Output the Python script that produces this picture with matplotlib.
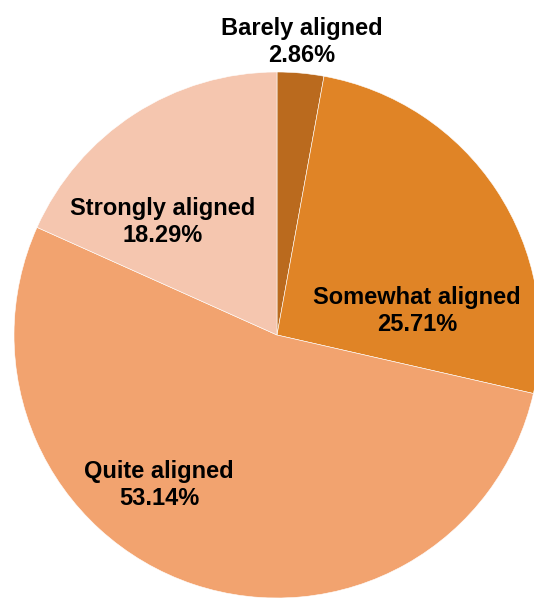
import matplotlib.pyplot as plt

labels = ["Barely aligned", "Somewhat aligned", "Quite aligned", "Strongly aligned"]
shares = [2.86, 25.71, 53.14, 18.29]
colors = ["#BA6A1E", "#E08426", "#F2A36F", "#F5C6AF"]
# label anchor points, in units of the pie radius
label_xy = [(0.095, 1.115), (0.532, 0.091), (-0.449, -0.570), (-0.433, 0.430)]

plt.rcParams['font.family'] = ['Liberation Sans', 'DejaVu Sans']

fig = plt.figure(figsize=(5.34, 5.98), dpi=100)
ax = fig.add_axes([0, 0, 1, 1])

ax.pie(shares, colors=colors, startangle=90, counterclock=False, radius=1.0,
       wedgeprops=dict(edgecolor="white", linewidth=0.4))

for lab, val, (x, y) in zip(labels, shares, label_xy):
    ax.text(x, y, f"{lab}\n{val:.2f}%", ha="center", va="center",
            fontsize=17, fontweight="bold", linespacing=1.22, color="black")

ax.set_aspect("auto")
ax.set_xlim(-277 / 263, 257 / 263)
ax.set_ylim(-263 / 263, 335 / 263)
ax.axis("off")

fig.savefig("out.png", dpi=100)
